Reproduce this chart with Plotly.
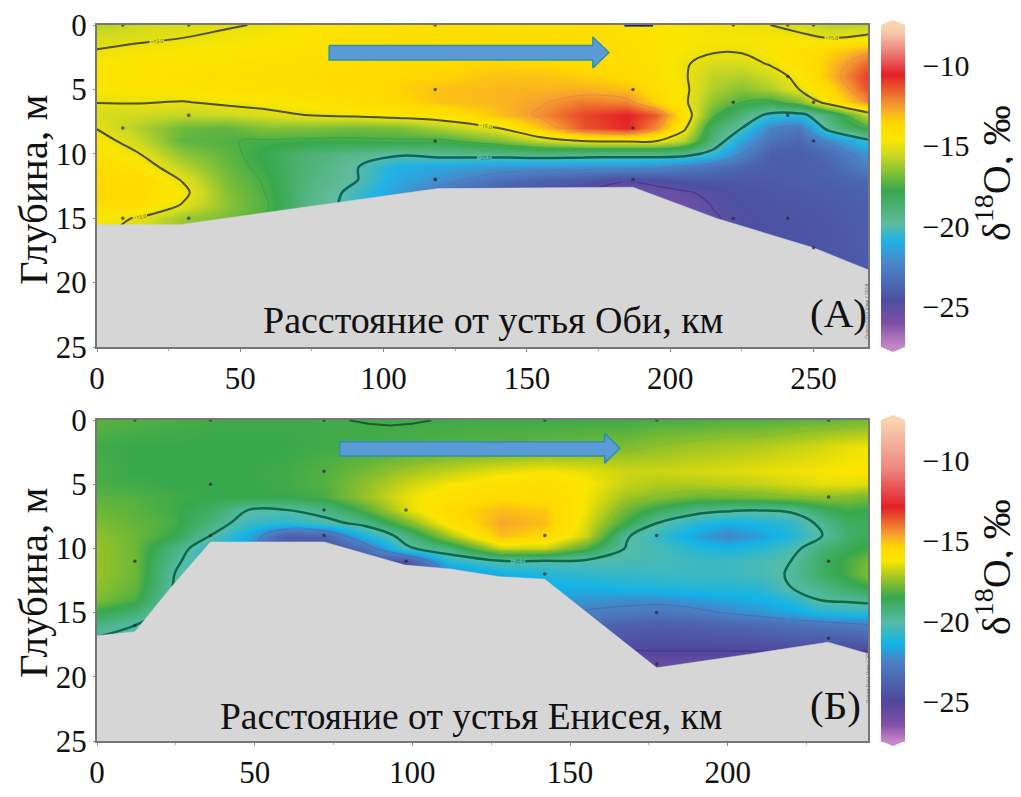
import plotly.graph_objects as go

# the page keeps a body margin of 8 px, so the figure is that much smaller than the window
PAGE = 8
W, H = 1021 - PAGE, 797 - PAGE

# Panel A, Ob section
ob_x = [0, 15, 30, 45, 60, 75, 90, 105, 120, 140, 155, 170, 185, 195, 205, 215, 225, 235, 245, 255, 269]
ob_depth = [0, 1, 2, 3, 4, 5, 6, 7, 8, 9, 10, 11, 12, 13, 14, 15, 20]
ob_d18o = [
    [-15.9, -15.5, -15.3, -15.1, -14.9, -14.6, -14.4, -14.3, -14.2, -14.1, -14.0, -14.1, -14.3, -14.5, -14.7, -14.8, -14.9, -15.0, -15.4, -15.9, -15.8],
    [-15.4, -15.2, -15.0, -14.8, -14.6, -14.4, -14.2, -14.1, -14.0, -13.9, -13.9, -14.0, -14.2, -14.4, -14.6, -14.7, -14.7, -14.7, -14.7, -15.0, -14.7],
    [-14.95, -14.7, -14.6, -14.5, -14.4, -14.2, -14.1, -13.9, -13.8, -13.8, -13.8, -13.9, -14.1, -14.3, -14.7, -14.9, -14.9, -14.6, -14.2, -13.6, -12.7],
    [-14.6, -14.5, -14.4, -14.3, -14.2, -14.1, -14.0, -13.8, -13.7, -13.5, -13.6, -13.8, -14.0, -14.3, -14.9, -15.4, -15.4, -14.9, -14.2, -13.3, -11.6],
    [-14.5, -14.4, -14.3, -14.2, -14.1, -14.0, -13.8, -13.6, -13.5, -13.2, -13.2, -13.4, -13.7, -14.2, -14.9, -15.8, -16.0, -15.5, -14.7, -13.2, -11.0],
    [-14.6, -14.5, -14.4, -14.3, -14.2, -14.0, -13.8, -13.5, -13.2, -13.0, -13.0, -12.9, -13.2, -14.0, -14.8, -16.0, -16.6, -16.0, -15.0, -13.9, -11.3],
    [-14.98, -14.95, -15.05, -14.8, -14.6, -14.4, -14.1, -13.7, -13.2, -13.0, -12.6, -12.0, -12.2, -13.6, -14.8, -16.5, -17.5, -17.8, -16.8, -14.4, -12.3],
    [-15.4, -15.5, -15.7, -15.6, -15.3, -14.95, -14.8, -14.5, -14.3, -13.2, -12.3, -11.2, -10.6, -11.5, -14.2, -17.3, -19.0, -20.4, -20.5, -18.8, -15.7],
    [-15.05, -16.0, -17.0, -17.2, -16.6, -16.7, -16.9, -16.8, -16.0, -15.0, -13.2, -11.4, -10.7, -12.3, -14.8, -18.5, -20.0, -22.4, -23.0, -19.5, -17.5],
    [-14.5, -15.6, -17.2, -17.45, -17.6, -17.7, -17.7, -17.6, -17.7, -16.8, -15.7, -14.9, -14.8, -14.9, -16.0, -19.0, -21.5, -23.2, -23.6, -22.3, -20.3],
    [-14.2, -15.0, -16.5, -17.2, -18.0, -18.9, -19.4, -19.8, -19.5, -19.3, -19.1, -19.2, -19.3, -19.2, -19.4, -20.5, -22.5, -24.0, -24.0, -23.5, -21.8],
    [-13.9, -14.4, -15.8, -17.0, -17.9, -19.0, -19.9, -21.0, -21.3, -21.8, -21.9, -22.0, -22.0, -22.2, -22.7, -23.2, -23.7, -24.0, -24.0, -23.8, -22.6],
    [-13.7, -13.9, -15.1, -16.8, -17.7, -19.2, -19.9, -21.2, -22.0, -23.2, -23.8, -24.2, -24.9, -24.6, -24.3, -24.2, -24.2, -24.2, -24.0, -23.9, -23.5],
    [-13.6, -13.8, -14.7, -16.6, -17.6, -19.3, -20.3, -21.5, -23.0, -24.2, -24.5, -25.0, -25.5, -25.4, -25.1, -24.8, -24.5, -24.3, -24.2, -24.1, -23.8],
    [-13.9, -14.0, -15.1, -16.5, -17.5, -19.4, -20.4, -21.7, -23.5, -24.4, -24.8, -25.3, -25.8, -25.7, -25.6, -24.95, -24.6, -24.4, -24.3, -24.2, -24.0],
    [-14.6, -15.1, -16.3, -16.8, -17.6, -19.5, -20.5, -22.0, -24.0, -25.0, -25.5, -26.0, -26.0, -25.8, -25.4, -25.1, -24.7, -24.5, -24.4, -24.3, -24.0],
    [-15.5, -16.0, -17.0, -17.5, -18.0, -20.0, -21.0, -22.5, -24.5, -25.0, -25.5, -26.0, -26.0, -25.8, -25.4, -25.0, -24.8, -24.6, -24.5, -24.4, -24.2],
]
ob_bottom_x = [0, 29, 119, 187, 216, 250, 269, 269, 0]
ob_bottom_depth = [15.5, 15.5, 12.7, 12.6, 15, 17.3, 19, 25, 25]
ob_station_x = [9, 32, 118, 190, 222, 241, 250, 118, 187, 241, 222, 250, 32, 9, 118, 187, 241, 118, 250, 118, 187, 32, 9, 222, 241, 250]
ob_station_depth = [0, 0, 0, 0, 0, 0, 0, 5, 5, 4, 6, 6, 7, 8, 9, 8, 7, 12, 9, 12, 12, 15, 15, 15, 15, 17.3]
ob_arrow_x = [81, 173, 173, 178.6, 173, 173, 81, 81]
ob_arrow_depth = [1.6, 1.6, 0.93, 2.13, 3.34, 2.72, 2.72, 1.6]
ob_surface_x = [184, 194]
ob_surface_depth = [0.05, 0.05]

# Panel B, Yenisei section
ye_x = [0, 12, 24, 36, 48, 60, 72, 85, 98, 112, 128, 142, 155, 168, 178, 190, 200, 210, 220, 230, 238, 244.5]
ye_depth = [0, 2, 4, 5, 6, 7, 8, 9, 10, 11, 12, 13, 14, 15, 16, 18, 20]
ye_d18o = [
    [-18.1, -18.2, -18.3, -18.4, -18.4, -18.4, -18.4, -18.4, -18.4, -18.4, -18.4, -18.4, -18.4, -18.4, -18.3, -18.3, -18.2, -18.2, -18.1, -18.0, -17.9, -17.8],
    [-18.4, -18.5, -18.5, -18.5, -18.5, -18.5, -18.4, -18.4, -18.3, -18.2, -18.1, -18.0, -17.9, -17.7, -17.5, -17.3, -17.2, -17.1, -16.9, -16.7, -16.5, -16.4],
    [-18.3, -18.5, -18.5, -18.5, -18.5, -18.4, -18.2, -17.8, -17.3, -16.9, -16.5, -16.3, -16.5, -16.8, -16.8, -16.7, -16.6, -16.5, -16.4, -16.3, -16.2, -16.2],
    [-18.3, -18.4, -18.5, -18.5, -18.5, -18.4, -18.2, -17.5, -16.8, -16.3, -15.9, -15.8, -16.2, -16.9, -17.1, -17.1, -17.0, -16.9, -16.7, -16.5, -16.5, -16.6],
    [-18.1, -18.2, -18.4, -18.5, -18.5, -18.5, -18.3, -17.4, -16.5, -15.9, -15.5, -15.6, -16.3, -17.3, -17.6, -17.9, -17.9, -17.8, -17.6, -17.5, -17.6, -17.8],
    [-17.9, -18.1, -18.4, -18.9, -20.0, -20.0, -19.5, -18.2, -16.6, -15.5, -15.0, -15.2, -16.4, -17.9, -18.7, -19.5, -19.8, -19.95, -19.8, -18.8, -18.4, -18.5],
    [-17.7, -18.0, -18.3, -19.3, -20.6, -21.0, -20.4, -19.6, -17.8, -15.9, -14.7, -15.0, -16.6, -18.5, -20.0, -21.0, -21.5, -21.2, -20.8, -19.7, -18.9, -18.8],
    [-17.5, -17.9, -18.5, -20.0, -21.6, -24.0, -23.8, -21.2, -19.5, -17.2, -15.0, -15.5, -16.8, -19.9, -20.7, -21.8, -22.4, -21.9, -21.1, -20.0, -19.0, -18.7],
    [-17.4, -17.9, -19.3, -20.9, -22.0, -24.5, -24.5, -23.3, -20.2, -19.2, -16.8, -16.8, -18.2, -20.1, -20.4, -21.0, -21.3, -21.0, -20.4, -19.2, -18.7, -18.4],
    [-17.4, -17.9, -19.7, -21.0, -22.0, -25.0, -25.0, -24.0, -24.5, -20.9, -20.1, -20.1, -20.2, -20.3, -20.4, -20.6, -20.6, -20.4, -20.0, -18.9, -18.3, -17.8],
    [-17.4, -17.9, -19.95, -21.0, -22.0, -25.0, -25.0, -25.0, -25.0, -22.5, -21.5, -21.1, -20.8, -20.7, -20.6, -20.6, -20.6, -20.4, -19.9, -18.9, -18.3, -17.6],
    [-17.5, -18.0, -20.0, -21.0, -22.0, -25.0, -25.0, -25.0, -25.0, -23.0, -22.0, -21.4, -21.4, -21.2, -21.1, -21.0, -21.0, -20.9, -20.0, -19.5, -18.9, -18.5],
    [-17.7, -18.3, -20.2, -21.0, -22.0, -25.0, -25.0, -25.0, -25.0, -23.0, -22.0, -22.0, -22.1, -22.2, -22.2, -21.9, -21.7, -21.5, -21.0, -19.9, -19.8, -19.6],
    [-18.6, -19.2, -20.5, -21.0, -22.0, -25.0, -25.0, -25.0, -25.0, -23.0, -22.0, -22.2, -22.6, -22.8, -23.0, -22.8, -22.4, -22.1, -21.7, -21.2, -21.0, -21.0],
    [-19.5, -20.0, -20.5, -21.0, -22.0, -25.0, -25.0, -25.0, -25.0, -23.0, -22.0, -23.0, -23.5, -23.9, -24.0, -23.9, -23.7, -23.5, -23.2, -23.0, -22.8, -22.6],
    [-20.6, -20.6, -20.6, -21.0, -22.0, -25.0, -25.0, -25.0, -25.0, -23.0, -22.0, -24.0, -24.5, -25.0, -25.0, -25.0, -25.0, -25.0, -25.0, -25.0, -25.0, -25.0],
    [-21.0, -21.0, -21.0, -21.0, -22.0, -25.0, -25.0, -25.0, -25.0, -23.0, -22.0, -25.0, -25.5, -26.4, -26.4, -26.4, -26.4, -26.4, -26.4, -26.4, -26.4, -26.4],
]
ye_bottom_x = [0, 12, 23.6, 36, 72, 97.6, 112, 127.7, 142, 177.5, 208, 231.8, 244.5, 244.5, 0]
ye_bottom_depth = [16.8, 16.5, 13, 9.5, 9.5, 11.3, 11.6, 12.2, 12.4, 19.3, 18.2, 17.3, 18.2, 25, 25]
ye_station_x = [12, 36, 72, 142, 177.5, 232, 36, 72, 72, 98, 232, 36, 72, 142, 177.5, 12, 98, 232, 142, 12, 177.5, 177.5, 232]
ye_station_depth = [0, 0, 0, 0, 0, 0, 5, 4, 7, 7, 6, 9, 9, 9, 9, 11, 11, 11, 12, 16, 15, 19, 17]
ye_arrow_x = [77, 161, 161, 165.8, 161, 161, 77, 77]
ye_arrow_depth = [1.69, 1.69, 1.03, 2.2, 3.36, 2.8, 2.8, 1.69]
ye_surface_x = [80, 86, 93, 100, 106]
ye_surface_depth = [0.03, 0.3, 0.42, 0.3, 0.03]

x_ticks_ob = [0, 50, 100, 150, 200, 250]
x_ticks_ye = [0, 50, 100, 150, 200]
y_ticks = [0, 5, 10, 15, 20, 25]
bar_ticks = [-10, -15, -20, -25]
z_min, z_max = -27.5, -7.5

ob_stops = [(-27.5, "#c488c8"), (-26, "#7e4fa6"), (-24.6, "#4c50a2"), (-22.3, "#4a86c8"), (-20.9, "#1fb3e6"),
            (-19.8, "#5fbb9a"), (-17.8, "#38a84c"), (-15.5, "#d0da20"), (-14.6, "#fbe600"), (-13.6, "#ffd800"),
            (-12.6, "#f6a030"), (-10.6, "#e32028"), (-9, "#ee8a80"), (-8, "#f6c8a8"), (-7.5, "#f8d4b0")]
ye_stops = [(-27.5, "#c888c8"), (-26.4, "#8050a8"), (-25, "#50489c"), (-22.5, "#4a80c4"), (-21.4, "#12b4e8"),
            (-20.1, "#55bba8"), (-18.5, "#38a84c"), (-17.2, "#a8c820"), (-16.25, "#fbe600"), (-15.4, "#ffd800"),
            (-14.6, "#f6a030"), (-12.9, "#e32028"), (-10.5, "#ee8880"), (-8, "#f6c8a8"), (-7.5, "#f8d4b0")]

SERIF = "Liberation Serif"
GROUND = "#d6d6d6"


def px(x):
    return (x - PAGE) / W


def py(y):
    return 1 - (y - PAGE) / H


def scale(stops):
    return [[(v - z_min) / (z_max - z_min), c] for v, c in stops]


def add_section(fig, xa, ya, x, depth, z, stops, levels, bar_top, bottom, stations, arrow, surface, surface_color):
    fig.add_trace(go.Contour(
        x=x, y=depth, z=z, xaxis=xa, yaxis=ya, zmin=z_min, zmax=z_max, colorscale=scale(stops),
        contours=dict(coloring="heatmap", showlines=False), line_width=0,
        colorbar=dict(
            x=px(881), xanchor="left", y=py(bar_top), yanchor="top", xpad=0, ypad=0,
            thickness=24, thicknessmode="pixels", len=322, lenmode="pixels",
            outlinewidth=0, tickvals=bar_ticks, ticks="outside", ticklen=12, tickcolor="rgba(0,0,0,0)",
            tickfont=dict(family=SERIF, size=30, color="#111"),
        ),
    ))
    for level, color, width in levels:
        fig.add_trace(go.Contour(
            x=x, y=depth, z=z, xaxis=xa, yaxis=ya, autocontour=False, showscale=False,
            colorscale=[[0, color], [1, color]],
            contours=dict(coloring="lines", start=level, end=level, size=1, showlabels=True,
                          labelfont=dict(size=5, color=color), labelformat=".1f"),
            line=dict(width=width, smoothing=1),
        ))
    fig.add_trace(go.Scatter(x=surface[0], y=surface[1], xaxis=xa, yaxis=ya, mode="lines",
                             line=dict(color=surface_color, width=2), showlegend=False))
    fig.add_trace(go.Scatter(x=bottom[0], y=bottom[1], xaxis=xa, yaxis=ya, mode="lines", fill="toself",
                             fillcolor=GROUND, line=dict(color=GROUND, width=0.5), showlegend=False))
    fig.add_trace(go.Scatter(x=stations[0], y=stations[1], xaxis=xa, yaxis=ya, mode="markers",
                             marker=dict(size=3.5, color="rgba(50,40,50,0.75)"), showlegend=False))
    fig.add_trace(go.Scatter(x=arrow[0], y=arrow[1], xaxis=xa, yaxis=ya, mode="lines", fill="toself",
                             fillcolor="#5b9bd5", line=dict(color="#2f8fb0", width=1.5), showlegend=False))


fig = go.Figure()

ob_levels = [(-12.5, "#d88a3a", 0.7), (-15, "#4f4f20", 2), (-17.5, "#2f9a58", 0.7),
             (-20, "#0c6660", 2.5), (-22.5, "#4a78b8", 0.7), (-25, "#5a2f90", 1.2)]
ye_levels = [(-17.5, "#8ab030", 0.5), (-20, "#0c6a4a", 2.5), (-22.5, "#3a70b8", 0.8), (-25, "#4a2890", 0.8)]

add_section(fig, "x", "y", ob_x, ob_depth, ob_d18o, ob_stops, ob_levels, 25,
            (ob_bottom_x, ob_bottom_depth), (ob_station_x, ob_station_depth),
            (ob_arrow_x, ob_arrow_depth), (ob_surface_x, ob_surface_depth), "#1a2a70")
add_section(fig, "x2", "y2", ye_x, ye_depth, ye_d18o, ye_stops, ye_levels, 420,
            (ye_bottom_x, ye_bottom_depth), (ye_station_x, ye_station_depth),
            (ye_arrow_x, ye_arrow_depth), (ye_surface_x, ye_surface_depth), "#1f5a30")


def x_axis(domain_anchor, right, ticks):
    return dict(
        domain=[px(97), px(868)], anchor=domain_anchor, range=[0, right], tickvals=ticks, automargin=False,
        ticks="outside", ticklen=3, tickwidth=1, tickcolor="#888", showgrid=False, zeroline=False,
        showline=True, linecolor="#777", linewidth=2, mirror=True, ticklabeloverflow="allow",
        tickfont=dict(family=SERIF, size=31, color="#111"),
        minor=dict(dtick=25, ticks="outside", ticklen=2, tickcolor="#aaa"),
    )


def y_axis(domain_anchor, top, bottom):
    return dict(
        domain=[py(bottom), py(top)], anchor=domain_anchor, range=[25, 0], tickvals=y_ticks, automargin=False,
        ticks="outside", ticklen=2, tickwidth=1, tickcolor="#888", showgrid=False, zeroline=False,
        showline=True, linecolor="#777", linewidth=2, mirror=True, ticklabeloverflow="allow",
        tickfont=dict(family=SERIF, size=31, color="#111"),
    )


def label(text, x, y, size, angle=0):
    return dict(text=text, x=px(x), y=py(y), xref="paper", yref="paper", showarrow=False, textangle=angle,
                xanchor="center", yanchor="middle", font=dict(family=SERIF, size=size, color="#111"))


annotations = [
    label("Расстояние от устья Оби, км", 493, 320, 38),
    label("(А)", 838, 313, 41),
    label("Расстояние от устья Енисея, км", 471, 716, 37.5),
    label("(Б)", 835, 705, 41),
    label("Глубина, м", 33, 190, 41, -90),
    label("Глубина, м", 33, 583, 41, -90),
    label("δ<sup>18</sup>O, ‰", 993, 173, 40, -90),
    label("δ<sup>18</sup>O, ‰", 993, 567, 40, -90),
    dict(text="Ocean Data View / 2018", x=px(872), y=py(312), xref="paper", yref="paper", showarrow=False,
         textangle=-90, font=dict(size=5, color="#666")),
    dict(text="Ocean Data View / 2018", x=px(872), y=py(706), xref="paper", yref="paper", showarrow=False,
         textangle=-90, font=dict(size=5, color="#666")),
]

# pointed ends of the colour bars
shapes = []
for top, bottom, low_color in [(25, 347, "#c488c8"), (420, 741, "#c888c8")]:
    shapes.append(dict(type="path", xref="paper", yref="paper", fillcolor="#f8d4b0", line_width=0,
                       path=f"M {px(881)} {py(top)} L {px(893)} {py(top - 5)} L {px(905)} {py(top)} Z"))
    shapes.append(dict(type="path", xref="paper", yref="paper", fillcolor=low_color, line_width=0,
                       path=f"M {px(881)} {py(bottom)} L {px(893)} {py(bottom + 5)} L {px(905)} {py(bottom)} Z"))

fig.update_layout(
    width=W, height=H, margin=dict(l=0, r=0, t=0, b=0), autosize=False,
    paper_bgcolor="white", plot_bgcolor="white", showlegend=False,
    xaxis=x_axis("y", 269, x_ticks_ob), yaxis=y_axis("x", 25, 347),
    xaxis2=x_axis("y2", 244.5, x_ticks_ye), yaxis2=y_axis("x2", 420, 741),
    annotations=annotations, shapes=shapes,
)

fig.write_html("out.html")
